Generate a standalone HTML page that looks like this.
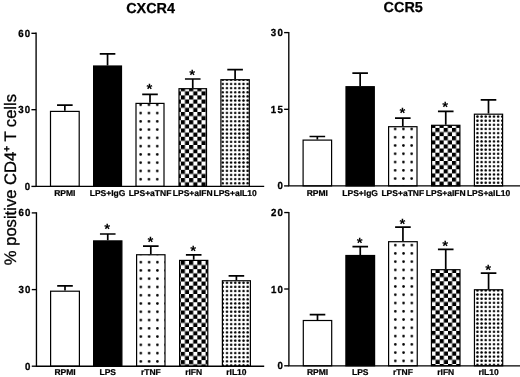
<!DOCTYPE html>
<html lang="en"><head><meta charset="utf-8"><title>CXCR4 / CCR5 expression on CD4+ T cells</title>
<style>
html,body{margin:0;padding:0;background:#fff;}
body{width:520px;height:377px;overflow:hidden;}
svg{display:block;filter:grayscale(1);text-rendering:geometricPrecision;font-family:"Liberation Sans",Arial,Helvetica,sans-serif;}
.ttl{font-size:14.4px;font-weight:bold;text-anchor:middle;fill:#000;stroke:#000;stroke-width:0.25px;}
.tk{font-size:10.3px;font-weight:bold;text-anchor:end;fill:#000;stroke:#000;stroke-width:0.3px;letter-spacing:1.2px;}
.xl{font-size:8.5px;font-weight:bold;text-anchor:middle;fill:#000;stroke:#000;stroke-width:0.22px;}
.ast{font-size:15px;font-weight:bold;text-anchor:middle;fill:#000;}
.yl{font-size:16.6px;fill:#000;stroke:#000;stroke-width:0.3px;}
.ax{stroke:#000;stroke-width:1.35;fill:none;stroke-linecap:butt;}
.er{stroke:#000;stroke-width:1.7;fill:none;}
.br{stroke:#000;stroke-width:1.2;}
</style></head><body>
<svg width="520" height="377" viewBox="0 0 520 377">
<defs>

<pattern id="pTL2" patternUnits="userSpaceOnUse" x="136.56" y="108.96" width="8.27" height="8.27"><rect width="8.27" height="8.27" fill="#fff"/><circle cx="4.13" cy="4.13" r="1.3" fill="#000"/></pattern>
<pattern id="pTL3" patternUnits="userSpaceOnUse" x="180.85" y="95.40" width="8.27" height="8.27"><rect width="8.27" height="8.27" fill="#fff"/><rect width="4.135" height="4.135" fill="#000"/><rect x="4.135" y="4.135" width="4.135" height="4.135" fill="#000"/></pattern>
<pattern id="pTL4" patternUnits="userSpaceOnUse" x="224.88" y="81.88" width="4.135" height="4.135"><rect width="4.135" height="4.135" fill="#fff"/><circle cx="2.067" cy="2.067" r="1.25" fill="#000"/></pattern>
<pattern id="pTR2" patternUnits="userSpaceOnUse" x="391.01" y="124.86" width="8.27" height="8.27"><rect width="8.27" height="8.27" fill="#fff"/><circle cx="4.13" cy="4.13" r="1.3" fill="#000"/></pattern>
<pattern id="pTR3" patternUnits="userSpaceOnUse" x="435.40" y="127.90" width="8.27" height="8.27"><rect width="8.27" height="8.27" fill="#fff"/><rect width="4.135" height="4.135" fill="#000"/><rect x="4.135" y="4.135" width="4.135" height="4.135" fill="#000"/></pattern>
<pattern id="pTR4" patternUnits="userSpaceOnUse" x="475.39" y="114.47" width="4.135" height="4.135"><rect width="4.135" height="4.135" fill="#fff"/><circle cx="2.067" cy="2.067" r="1.25" fill="#000"/></pattern>
<pattern id="pBL2" patternUnits="userSpaceOnUse" x="136.72" y="258.06" width="8.27" height="8.27"><rect width="8.27" height="8.27" fill="#fff"/><circle cx="4.13" cy="4.13" r="1.3" fill="#000"/></pattern>
<pattern id="pBL3" patternUnits="userSpaceOnUse" x="180.80" y="260.90" width="8.27" height="8.27"><rect width="8.27" height="8.27" fill="#fff"/><rect width="4.135" height="4.135" fill="#000"/><rect x="4.135" y="4.135" width="4.135" height="4.135" fill="#000"/></pattern>
<pattern id="pBL4" patternUnits="userSpaceOnUse" x="224.93" y="284.78" width="4.135" height="4.135"><rect width="4.135" height="4.135" fill="#fff"/><circle cx="2.067" cy="2.067" r="1.25" fill="#000"/></pattern>
<pattern id="pBR2" patternUnits="userSpaceOnUse" x="391.17" y="241.02" width="8.27" height="8.27"><rect width="8.27" height="8.27" fill="#fff"/><circle cx="4.13" cy="4.13" r="1.3" fill="#000"/></pattern>
<pattern id="pBR3" patternUnits="userSpaceOnUse" x="439.70" y="273.00" width="8.27" height="8.27"><rect width="8.27" height="8.27" fill="#fff"/><rect width="4.135" height="4.135" fill="#000"/><rect x="4.135" y="4.135" width="4.135" height="4.135" fill="#000"/></pattern>
<pattern id="pBR4" patternUnits="userSpaceOnUse" x="475.39" y="292.47" width="4.135" height="4.135"><rect width="4.135" height="4.135" fill="#fff"/><circle cx="2.067" cy="2.067" r="1.25" fill="#000"/></pattern>
</defs>
<g>
<rect width="520" height="377" fill="#fff"/>
<text class="ttl" x="150.6" y="12.6">CXCR4</text>
<text class="ttl" x="403.2" y="12.4">CCR5</text>
<text class="yl" transform="translate(16.4,265.2) rotate(-90)">% positive CD4<tspan dy="-6.8" font-size="10px" font-weight="bold">+</tspan><tspan dy="6.8"> T cells</tspan></text>
<g id="TL">
<path class="er" d="M64.85 110.80V105.20M57.05 105.20H72.65"/>
<rect class="br" x="50.50" y="111.40" width="28.70" height="75.00" fill="#fff"/>
<text class="xl" x="64.85" y="195.70">RPMI</text>
<path class="er" d="M107.55 65.40V53.80M99.75 53.80H115.35"/>
<rect class="br" x="93.60" y="66.00" width="27.90" height="120.40" fill="#000"/>
<text class="xl" x="107.55" y="195.70">LPS+IgG</text>
<path class="er" d="M150.00 102.80V94.30M142.20 94.30H157.80"/>
<rect class="br" x="136.00" y="103.40" width="28.00" height="83.00" fill="url(#pTL2)"/>
<text class="ast" x="149.50" y="94.30">*</text>
<text class="xl" x="150.00" y="195.70">LPS+aTNF</text>
<path class="er" d="M192.75 88.10V79.00M184.95 79.00H200.55"/>
<rect class="br" x="179.00" y="88.70" width="27.50" height="97.70" fill="url(#pTL3)"/>
<text class="ast" x="192.25" y="80.00">*</text>
<text class="xl" x="192.75" y="195.70">LPS+aIFN</text>
<path class="er" d="M235.10 79.10V69.60M227.30 69.60H242.90"/>
<rect class="br" x="220.90" y="79.70" width="28.40" height="106.70" fill="url(#pTL4)"/>
<text class="xl" x="235.10" y="195.70">LPS+aIL10</text>
<path class="ax" d="M36.10 32.62V186.40H264.20"/>
<path class="ax" d="M31.40 33.30H36.10"/>
<text class="tk" transform="translate(31.20,36.80) scale(0.94,1)">60</text>
<path class="ax" d="M31.40 109.70H36.10"/>
<text class="tk" transform="translate(31.20,113.20) scale(0.94,1)">30</text>
<path class="ax" d="M31.40 186.40H36.10"/>
<text class="tk" transform="translate(31.20,189.90) scale(0.94,1)">0</text>
</g>
<g id="TR">
<path class="er" d="M317.35 139.50V136.50M309.55 136.50H325.15"/>
<rect class="br" x="303.10" y="140.10" width="28.50" height="45.80" fill="#fff"/>
<text class="xl" x="317.35" y="195.70">RPMI</text>
<path class="er" d="M360.15 86.10V73.20M352.35 73.20H367.95"/>
<rect class="br" x="346.00" y="86.70" width="28.30" height="99.20" fill="#000"/>
<text class="xl" x="360.15" y="195.70">LPS+IgG</text>
<path class="er" d="M402.80 126.10V118.10M395.00 118.10H410.60"/>
<rect class="br" x="388.60" y="126.70" width="28.40" height="59.20" fill="url(#pTR2)"/>
<text class="ast" x="402.30" y="118.10">*</text>
<text class="xl" x="402.80" y="195.70">LPS+aTNF</text>
<path class="er" d="M445.75 124.70V111.30M437.95 111.30H453.55"/>
<rect class="br" x="431.60" y="125.30" width="28.30" height="60.60" fill="url(#pTR3)"/>
<text class="ast" x="445.25" y="111.80">*</text>
<text class="xl" x="445.75" y="195.70">LPS+aIFN</text>
<path class="er" d="M488.50 113.60V99.90M480.70 99.90H496.30"/>
<rect class="br" x="474.40" y="114.20" width="28.20" height="71.70" fill="url(#pTR4)"/>
<text class="xl" x="488.50" y="195.70">LPS+aIL10</text>
<path class="ax" d="M288.80 31.93V185.90H521.00"/>
<path class="ax" d="M284.10 32.60H288.80"/>
<text class="tk" transform="translate(283.90,36.10) scale(0.94,1)">30</text>
<path class="ax" d="M284.10 109.30H288.80"/>
<text class="tk" transform="translate(283.90,112.80) scale(0.94,1)">15</text>
<path class="ax" d="M284.10 185.90H288.80"/>
<text class="tk" transform="translate(283.90,189.40) scale(0.94,1)">0</text>
</g>
<g id="BL">
<path class="er" d="M65.00 290.60V285.80M57.20 285.80H72.80"/>
<rect class="br" x="50.60" y="291.20" width="28.80" height="75.00" fill="#fff"/>
<text class="xl" x="65.00" y="375.30">RPMI</text>
<path class="er" d="M107.75 240.30V234.00M99.95 234.00H115.55"/>
<rect class="br" x="93.60" y="240.90" width="28.30" height="125.30" fill="#000"/>
<text class="ast" x="107.25" y="234.30">*</text>
<text class="xl" x="107.75" y="375.30">LPS</text>
<path class="er" d="M150.80 254.15V246.10M143.00 246.10H158.60"/>
<rect class="br" x="136.60" y="254.75" width="28.40" height="111.45" fill="url(#pBL2)"/>
<text class="ast" x="150.30" y="246.80">*</text>
<text class="xl" x="150.80" y="375.30">rTNF</text>
<path class="er" d="M193.70 259.80V254.90M185.90 254.90H201.50"/>
<rect class="br" x="179.60" y="260.40" width="28.20" height="105.80" fill="url(#pBL3)"/>
<text class="ast" x="193.20" y="256.00">*</text>
<text class="xl" x="193.70" y="375.30">rIFN</text>
<path class="er" d="M236.40 280.15V275.90M228.60 275.90H244.20"/>
<rect class="br" x="222.40" y="280.75" width="28.00" height="85.45" fill="url(#pBL4)"/>
<text class="xl" x="236.40" y="375.30">rIL10</text>
<path class="ax" d="M36.45 212.22V366.20H264.20"/>
<path class="ax" d="M31.75 212.90H36.45"/>
<text class="tk" transform="translate(31.55,216.40) scale(0.94,1)">60</text>
<path class="ax" d="M31.75 289.60H36.45"/>
<text class="tk" transform="translate(31.55,293.10) scale(0.94,1)">30</text>
<path class="ax" d="M31.75 366.20H36.45"/>
<text class="tk" transform="translate(31.55,369.70) scale(0.94,1)">0</text>
</g>
<g id="BR">
<path class="er" d="M317.50 319.90V314.60M309.70 314.60H325.30"/>
<rect class="br" x="303.30" y="320.50" width="28.40" height="45.30" fill="#fff"/>
<text class="xl" x="317.50" y="375.30">RPMI</text>
<path class="er" d="M360.25 254.90V246.60M352.45 246.60H368.05"/>
<rect class="br" x="345.90" y="255.50" width="28.70" height="110.30" fill="#000"/>
<text class="ast" x="359.75" y="247.90">*</text>
<text class="xl" x="360.25" y="375.30">LPS</text>
<path class="er" d="M402.93 241.10V227.10M395.12 227.10H410.73"/>
<rect class="br" x="388.60" y="241.70" width="28.65" height="124.10" fill="url(#pBR2)"/>
<text class="ast" x="402.43" y="229.30">*</text>
<text class="xl" x="402.93" y="375.30">rTNF</text>
<path class="er" d="M445.73 269.10V249.30M437.93 249.30H453.53"/>
<rect class="br" x="431.45" y="269.70" width="28.55" height="96.10" fill="url(#pBR3)"/>
<text class="ast" x="445.23" y="250.85">*</text>
<text class="xl" x="445.73" y="375.30">rIFN</text>
<path class="er" d="M488.58 289.15V273.10M480.78 273.10H496.38"/>
<rect class="br" x="474.45" y="289.75" width="28.25" height="76.05" fill="url(#pBR4)"/>
<text class="ast" x="488.08" y="274.70">*</text>
<text class="xl" x="488.58" y="375.30">rIL10</text>
<path class="ax" d="M288.90 211.88V365.80H521.00"/>
<path class="ax" d="M284.20 212.55H288.90"/>
<text class="tk" transform="translate(284.00,216.05) scale(0.94,1)">20</text>
<path class="ax" d="M284.20 289.00H288.90"/>
<text class="tk" transform="translate(284.00,292.50) scale(0.94,1)">10</text>
<path class="ax" d="M284.20 365.80H288.90"/>
<text class="tk" transform="translate(284.00,369.30) scale(0.94,1)">0</text>
</g>
</g></svg></body></html>
